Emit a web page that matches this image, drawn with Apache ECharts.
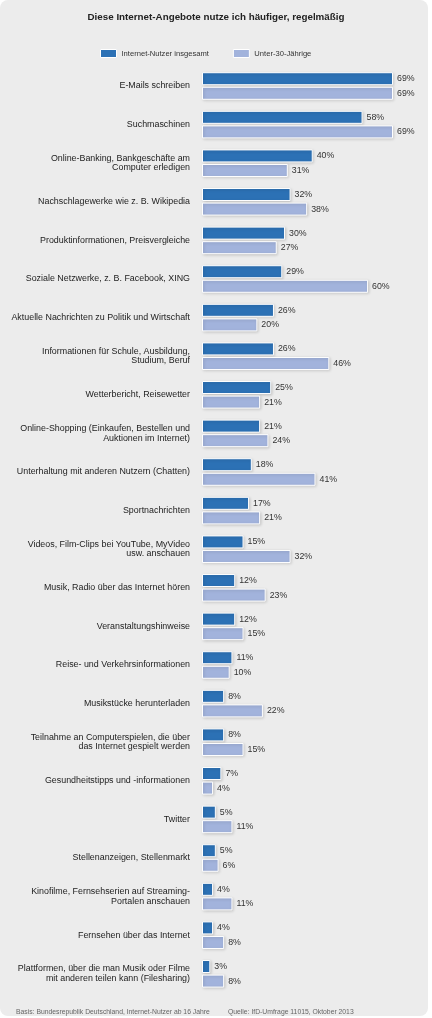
<!DOCTYPE html>
<html>
<head>
<meta charset="utf-8">
<script src="https://cdn.jsdelivr.net/npm/echarts@6/dist/echarts.min.js"></script>
<style>
  html, body { margin: 0; padding: 0; background: #fff; }
  #chart { width: 432px; height: 1018px; }
</style>
</head>
<body>
<div id="chart"></div>
<script>
// Angebote (von oben nach unten)
var categories = [
  'E-Mails schreiben',
  'Suchmaschinen',
  'Online-Banking, Bankgeschäfte am\nComputer erledigen',
  'Nachschlagewerke wie z. B. Wikipedia',
  'Produktinformationen, Preisvergleiche',
  'Soziale Netzwerke, z. B. Facebook, XING',
  'Aktuelle Nachrichten zu Politik und Wirtschaft',
  'Informationen für Schule, Ausbildung,\nStudium, Beruf',
  'Wetterbericht, Reisewetter',
  'Online-Shopping (Einkaufen, Bestellen und\nAuktionen im Internet)',
  'Unterhaltung mit anderen Nutzern (Chatten)',
  'Sportnachrichten',
  'Videos, Film-Clips bei YouTube, MyVideo\nusw. anschauen',
  'Musik, Radio über das Internet hören',
  'Veranstaltungshinweise',
  'Reise- und Verkehrsinformationen',
  'Musikstücke herunterladen',
  'Teilnahme an Computerspielen, die über\ndas Internet gespielt werden',
  'Gesundheitstipps und -informationen',
  'Twitter',
  'Stellenanzeigen, Stellenmarkt',
  'Kinofilme, Fernsehserien auf Streaming-\nPortalen anschauen',
  'Fernsehen über das Internet',
  'Plattformen, über die man Musik oder Filme\nmit anderen teilen kann (Filesharing)'
]
var gesamt = [69, 58, 40, 32, 30, 29, 26, 26, 25, 21, 18, 17, 15, 12, 12, 11, 8, 8, 7, 5, 5, 4, 4, 3]  // Internet-Nutzer insgesamt
var unter30 = [69, 69, 31, 38, 27, 60, 20, 46, 21, 24, 41, 21, 32, 23, 15, 10, 22, 15, 4, 11, 6, 11, 8, 8]  // Unter-30-Jährige
var seriesNames = ['Internet-Nutzer insgesamt', 'Unter-30-Jährige']
var footLeft = 'Basis: Bundesrepublik Deutschland, Internet-Nutzer ab 16 Jahre'
var footRight = 'Quelle: IfD-Umfrage 11015, Oktober 2013'

var font = 'Liberation Sans, Arial, sans-serif'
var myChart = echarts.init(document.getElementById('chart'))

function barSeries(name, data, color) {
  return {
    name: name,
    type: 'bar',
    data: data,
    barWidth: 13,
    barGap: '12%',
    itemStyle: {
      color: color,
      borderColor: '#fff',
      borderWidth: 1,
      shadowColor: 'rgba(0, 0, 0, 0.18)',
      shadowBlur: 3,
      shadowOffsetX: 1,
      shadowOffsetY: 1
    },
    label: {
      show: true,
      position: 'right',
      distance: 4,
      formatter: '{c}%',
      fontFamily: font,
      fontSize: 8.8,
      color: '#333'
    },
    emphasis: { disabled: true }
  }
}

myChart.setOption({
  animation: false,
  title: {
    text: 'Diese Internet-Angebote nutze ich häufiger, regelmäßig',
    left: 'center',
    top: 7,
    textStyle: { fontFamily: font, fontSize: 9.8, fontWeight: 'bold', color: '#222' }
  },
  legend: {
    left: 100,
    top: 49,
    padding: 0,
    itemWidth: 16,
    itemHeight: 8,
    itemGap: 24,
    icon: 'rect',
    itemStyle: { borderColor: '#fff', borderWidth: 1 },
    textStyle: { fontFamily: font, fontSize: 7.6, color: '#333' },
    data: seriesNames
  },
  graphic: [
    {
      type: 'rect',
      z: -10,
      shape: { x: 0, y: 0, width: 428, height: 1016, r: 8 },
      style: { fill: '#ececec' }
    },
    {
      type: 'text',
      left: 16,
      top: 1009,
      style: { text: footLeft, fontFamily: font, fontSize: 6.8, fill: '#666' }
    },
    {
      type: 'text',
      left: 228,
      top: 1009,
      style: { text: footRight, fontFamily: font, fontSize: 6.8, fill: '#666' }
    }
  ],
  grid: { left: 202, right: 22.4, top: 66.7, bottom: 24.9 },
  xAxis: {
    type: 'value',
    min: 0,
    max: 75,
    show: false
  },
  yAxis: {
    type: 'category',
    inverse: true,
    data: categories,
    axisLine: { show: false },
    axisTick: { show: false },
    axisLabel: {
      margin: 12,
      fontFamily: font,
      fontSize: 8.9,
      lineHeight: 9.6,
      color: '#222',
      align: 'right'
    }
  },
  series: [
    barSeries(seriesNames[0], gesamt, '#2c71b5'),
    barSeries(seriesNames[1], unter30, '#a2b3dc')
  ]
})
</script>
</body>
</html>
